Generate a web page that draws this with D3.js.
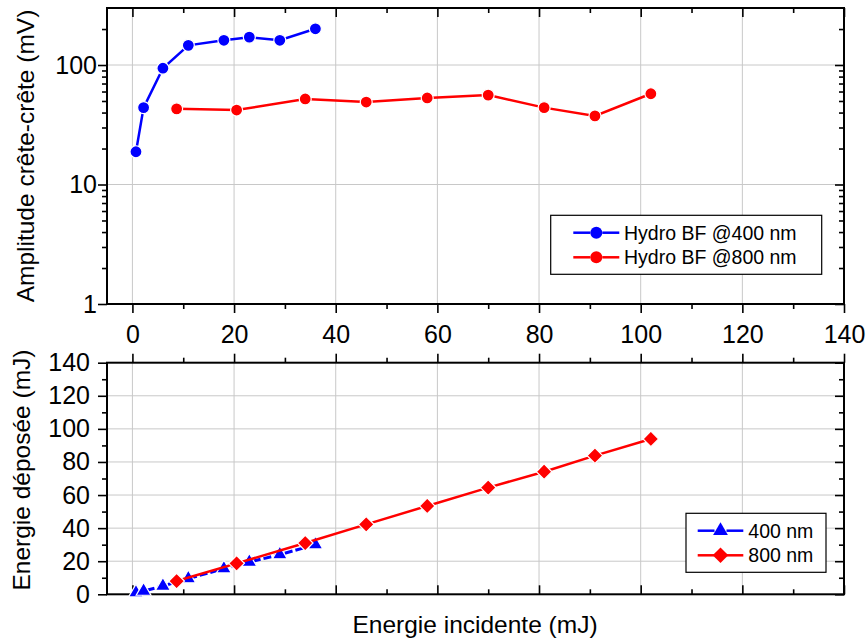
<!DOCTYPE html>
<html>
<head>
<meta charset="utf-8">
<script src="https://cdn.jsdelivr.net/npm/d3@7"></script>
<style>
  html, body { margin: 0; padding: 0; background: #fff; }
  svg { display: block; font-family: "Liberation Sans", Arial, sans-serif; }
</style>
</head>
<body>
<svg id="chart" width="867" height="640"></svg>
<script>
// ---- Data ----
const energie400 = [0.7, 2.2, 6, 11, 18, 23, 29, 36];
const amplitude400 = [18.8, 44, 94, 146, 161, 171, 161, 201];
const energie800 = [8.7, 20.5, 34, 46, 58, 70, 81, 91, 102];
const amplitude800 = [43, 42, 52, 49, 53, 56, 44, 37.5, 57.5];
const depose400 = [1, 2, 5, 9.5, 15.5, 19.5, 24, 30];
const depose800 = [8, 18.7, 31, 42.3, 53.4, 64.5, 74.1, 83.8, 93.9];

const xTicks = [0, 20, 40, 60, 80, 100, 120, 140];
const xMinor = [10, 30, 50, 70, 90, 110, 130];
const ampTicks = [1, 10, 100];
const ampMinor = [2,3,4,5,6,7,8,9,20,30,40,50,60,70,80,90,200];
const depTicks = [0, 20, 40, 60, 80, 100, 120, 140];
const depMinor = [10, 30, 50, 70, 90, 110, 130];

const legendTop = ["Hydro BF @400 nm", "Hydro BF @800 nm"];
const legendBottom = ["400 nm", "800 nm"];
const colors = ["#0000ff", "#ff0000"];

// ---- Layout ----
const L = 107, R = 844;
const T1 = 8, B1 = 304;
const T2 = 362.7, B2 = 594.3;
const MAJ = 9, MIN = 5;
const FS = 25;

const svg = d3.select("#chart");
const x = d3.scaleLinear().domain([-5, 140]).range([L, R]);
const yA = d3.scaleLog().domain([1, 300]).range([B1, T1]);
const yD = d3.scaleLinear().domain([0, 140]).range([B2, T2]);

const gridColor = "#c8c8c8";

function grid(yScale, yVals, top, bottom) {
  const g = svg.append("g");
  g.selectAll(".gx").data(xTicks.filter(v => v < 140)).enter().append("line")
    .attr("x1", d => x(d)).attr("x2", d => x(d))
    .attr("y1", top).attr("y2", bottom)
    .attr("stroke", gridColor).attr("stroke-width", 1);
  g.selectAll(".gy").data(yVals).enter().append("line")
    .attr("x1", L).attr("x2", R)
    .attr("y1", d => yScale(d)).attr("y2", d => yScale(d))
    .attr("stroke", gridColor).attr("stroke-width", 1);
}
grid(yA, [10, 100], T1, B1);
grid(yD, [20, 40, 60, 80, 100, 120], T2, B2);

function styleAxis(g) {
  g.select(".domain").remove();
  g.selectAll(".tick line").attr("stroke", "#000").attr("stroke-width", 1.6);
  g.selectAll(".tick text").attr("font-size", FS).attr("fill", "#000")
    .attr("font-family", "Liberation Sans, Arial, sans-serif");
}
function addAxis(axis, tx, ty) {
  const g = svg.append("g").attr("transform", `translate(${tx},${ty})`).call(axis);
  styleAxis(g);
  return g;
}

// --- Top panel axes ---
addAxis(d3.axisBottom(x).tickValues(xTicks).tickSize(MAJ).tickPadding(12).tickFormat(d3.format("d")), 0, B1);
addAxis(d3.axisBottom(x).tickValues(xMinor).tickSize(MIN).tickFormat(""), 0, B1);
addAxis(d3.axisTop(x).tickValues(xTicks).tickSize(-MAJ).tickFormat(""), 0, T1);
addAxis(d3.axisTop(x).tickValues(xMinor).tickSize(-MIN).tickFormat(""), 0, T1);
addAxis(d3.axisLeft(yA).tickValues(ampTicks).tickSize(MAJ).tickPadding(1).tickFormat(d3.format("d")), L, 0);
addAxis(d3.axisLeft(yA).tickValues(ampMinor).tickSize(MIN).tickFormat(""), L, 0);
addAxis(d3.axisRight(yA).tickValues(ampTicks).tickSize(-MAJ).tickFormat(""), R, 0);
addAxis(d3.axisRight(yA).tickValues(ampMinor).tickSize(-MIN).tickFormat(""), R, 0);

// --- Bottom panel axes ---
addAxis(d3.axisTop(x).tickValues(xTicks).tickSize(MAJ).tickFormat(""), 0, T2);
addAxis(d3.axisTop(x).tickValues(xMinor).tickSize(MIN).tickFormat(""), 0, T2);
addAxis(d3.axisBottom(x).tickValues(xTicks).tickSize(-MAJ).tickFormat(""), 0, B2);
addAxis(d3.axisBottom(x).tickValues(xMinor).tickSize(-MIN).tickFormat(""), 0, B2);
addAxis(d3.axisLeft(yD).tickValues(depTicks).tickSize(MAJ).tickPadding(8).tickFormat(d3.format("d")), L, 0);
addAxis(d3.axisLeft(yD).tickValues(depMinor).tickSize(MIN).tickFormat(""), L, 0);
addAxis(d3.axisRight(yD).tickValues(depTicks).tickSize(-MAJ).tickFormat(""), R, 0);
addAxis(d3.axisRight(yD).tickValues(depMinor).tickSize(-MIN).tickFormat(""), R, 0);

// frames
[[T1, B1], [T2, B2]].forEach(([t, b]) => {
  svg.append("rect").attr("x", L).attr("y", t).attr("width", R - L).attr("height", b - t)
    .attr("fill", "none").attr("stroke", "#000").attr("stroke-width", 2);
});

// ---- Series ----
const circlePath = d3.symbol().type(d3.symbolCircle).size(Math.PI * 6 * 6)();
const trianglePath = d3.symbol().type(d3.symbolTriangle).size(95)();
const diamondPath = (function() { const h = 7.8; return `M0,${-h}L${h},0L0,${h}L${-h},0Z`; })();

function series(xs, ys, yScale, color, markerPath, dash) {
  const pts = xs.map((v, i) => [x(v), yScale(ys[i])]);
  svg.append("path").attr("d", d3.line()(pts))
    .attr("fill", "none").attr("stroke", color).attr("stroke-width", dash ? 3 : 2.5)
    .attr("stroke-dasharray", dash || null);
  svg.append("g").selectAll("path").data(pts).enter().append("path")
    .attr("d", markerPath)
    .attr("transform", d => `translate(${d[0]},${d[1]})`)
    .attr("fill", color).attr("stroke", "#fff").attr("stroke-width", 1.2);
}
series(energie400, amplitude400, yA, colors[0], circlePath);
series(energie800, amplitude800, yA, colors[1], circlePath);
series(energie400, depose400, yD, colors[0], trianglePath, "8,3");
series(energie800, depose800, yD, colors[1], diamondPath);

// ---- Legends ----
function legend(x0, y0, w, h, labels, markers, lineX1, lineX2, textX, rowYs) {
  svg.append("rect").attr("x", x0).attr("y", y0).attr("width", w).attr("height", h)
    .attr("fill", "#fff").attr("stroke", "#000").attr("stroke-width", 1.2);
  labels.forEach((lab, i) => {
    const yy = rowYs[i];
    const mx = (lineX1 + lineX2) / 2;
    svg.append("line").attr("x1", lineX1).attr("x2", mx - 6).attr("y1", yy).attr("y2", yy)
      .attr("stroke", colors[i]).attr("stroke-width", 2.5);
    svg.append("line").attr("x1", mx + 6).attr("x2", lineX2).attr("y1", yy).attr("y2", yy)
      .attr("stroke", colors[i]).attr("stroke-width", 2.5);
    svg.append("path").attr("d", markers[i]).attr("transform", `translate(${mx},${yy})`)
      .attr("fill", colors[i]);
    svg.append("text").attr("x", textX).attr("y", yy).attr("dy", "0.35em")
      .attr("font-size", 19.5).attr("fill", "#000").text(lab);
  });
}
legend(550.7, 215.3, 271, 59, legendTop, [circlePath, circlePath], 573.3, 619.3, 624, [232.7, 257.3]);
legend(686, 513.3, 140, 59, legendBottom, [trianglePath, diamondPath], 697.7, 743.3, 748.3, [530.7, 555.3]);

// ---- Axis titles ----
svg.append("text").attr("transform", `translate(34,156) rotate(-90)`)
  .attr("text-anchor", "middle").attr("font-size", 24.5).attr("fill", "#000")
  .text("Amplitude crête-crête (mV)");
svg.append("text").attr("transform", `translate(29.5,470) rotate(-90)`)
  .attr("text-anchor", "middle").attr("font-size", 24.5).attr("fill", "#000")
  .text("Energie déposée (mJ)");
svg.append("text").attr("x", 475).attr("y", 633)
  .attr("text-anchor", "middle").attr("font-size", 24.5).attr("fill", "#000")
  .text("Energie incidente (mJ)");
</script>
</body>
</html>
